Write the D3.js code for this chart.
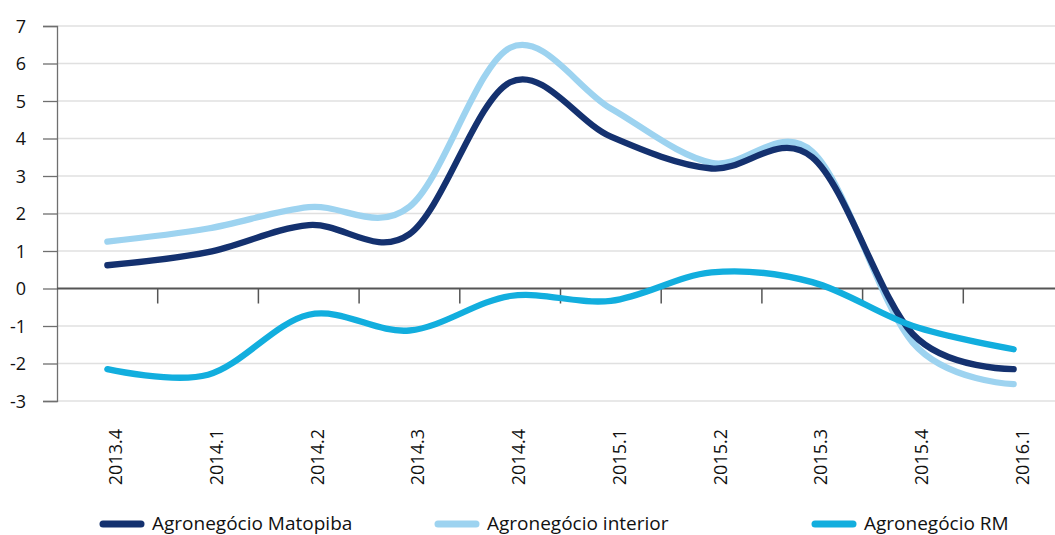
<!DOCTYPE html>
<html>
<head>
<meta charset="utf-8">
<script src="https://cdn.jsdelivr.net/npm/d3@7"></script>
<style>
  html, body { margin: 0; padding: 0; background: #fff; }
  svg { display: block; font-family: "Open Sans", "Noto Sans", sans-serif; }
</style>
</head>
<body>
<svg id="chart" width="1055" height="535"></svg>
<script>
const categories = ["2013.4","2014.1","2014.2","2014.3","2014.4","2015.1","2015.2","2015.3","2015.4","2016.1"];
const matopiba = [0.62, 0.97, 1.69, 1.45, 5.5, 4.05, 3.2, 3.5, -1.22, -2.15];
const interior = [1.25, 1.6, 2.17, 2.18, 6.42, 4.8, 3.35, 3.65, -1.45, -2.55];
const rm = [-2.15, -2.3, -0.7, -1.12, -0.2, -0.33, 0.43, 0.17, -1.0, -1.62];
const yTicks = [-3, -2, -1, 0, 1, 2, 3, 4, 5, 6, 7];
const seriesNames = ["Agronegócio Matopiba", "Agronegócio interior", "Agronegócio RM"];
const seriesColors = ["#14316f", "#9dd3f0", "#12aede"];

const svg = d3.select("#chart");
const plotLeft = 57, plotRight = 1064, plotTop = 26, plotBottom = 401;

const x = d3.scaleBand().domain(categories).range([plotLeft, plotRight]).paddingInner(0).paddingOuter(0);
const y = d3.scaleLinear().domain([-3, 7]).range([plotBottom, plotTop]);

// gridlines
svg.append("g").selectAll("line").data(yTicks.filter(d => d !== 0)).join("line")
  .attr("x1", plotLeft).attr("x2", 1055)
  .attr("y1", d => y(d)).attr("y2", d => y(d))
  .attr("stroke", "#e0e0e0").attr("stroke-width", 1.3);

// y axis
const yAxis = d3.axisLeft(y).tickValues(yTicks).tickSize(14).tickPadding(18).tickFormat(d => String(d));
const gy = svg.append("g").attr("transform", `translate(${plotLeft},0)`).call(yAxis);
gy.select(".domain").attr("stroke", "#6f6f6f").attr("stroke-width", 1.3);
gy.selectAll(".tick line").attr("stroke", "#6f6f6f").attr("stroke-width", 1.3);
gy.selectAll(".tick text").attr("font-size", 18).attr("fill", "#111")
  .attr("font-family", "'Open Sans', sans-serif").attr("x", -31).attr("dy", "0.34em");

// zero axis with ticks at category boundaries
const gx = svg.append("g").attr("transform", `translate(0,${y(0)})`);
gx.append("line").attr("x1", plotLeft).attr("x2", 1055).attr("y1", 0).attr("y2", 0)
  .attr("stroke", "#555").attr("stroke-width", 2);
gx.selectAll("line.tk").data(categories.slice(1)).join("line").attr("class", "tk")
  .attr("x1", d => x(d)).attr("x2", d => x(d)).attr("y1", 0).attr("y2", 15)
  .attr("stroke", "#555").attr("stroke-width", 1.5);

// x labels (rotated)
svg.append("g").selectAll("text").data(categories).join("text")
  .attr("transform", d => `translate(${x(d) + x.bandwidth() / 2},429) rotate(-90)`)
  .attr("text-anchor", "end").attr("dy", 15)
  .attr("font-size", 18).attr("fill", "#111")
  .text(d => d);

// lines
const line = d3.line()
  .x((d, i) => x(categories[i]) + x.bandwidth() / 2)
  .y(d => y(d))
  .curve(d3.curveCardinal.tension(0));

const allSeries = [matopiba, interior, rm];
[1, 0, 2].forEach(k => {
  svg.append("path").datum(allSeries[k])
    .attr("d", line)
    .attr("fill", "none")
    .attr("stroke", seriesColors[k])
    .attr("stroke-width", 6.3)
    .attr("stroke-linecap", "round")
    .attr("stroke-linejoin", "round");
});

// legend
const legendX = [100, 435, 812];
const lg = svg.append("g");
seriesNames.forEach((name, i) => {
  lg.append("line").attr("x1", legendX[i] + 3).attr("x2", legendX[i] + 41)
    .attr("y1", 524).attr("y2", 524)
    .attr("stroke", seriesColors[i]).attr("stroke-width", 7).attr("stroke-linecap", "round");
  lg.append("text").attr("x", legendX[i] + 52).attr("y", 530)
    .attr("font-size", 19).attr("fill", "#111").text(name);
});
</script>
</body>
</html>
